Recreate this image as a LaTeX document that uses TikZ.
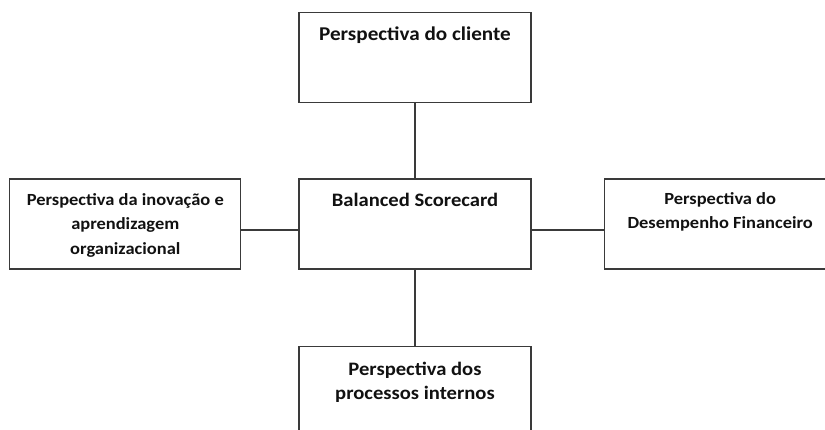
\documentclass[tikz,border=0pt]{standalone}
\usepackage{fontspec}
\setmainfont{Carlito}[FakeStretch=1.085]
\usetikzlibrary{positioning,calc}
\definecolor{bsInk}{HTML}{111111}
\definecolor{bsLine}{HTML}{3A3A3A}
\tikzset{
  bsbox/.style={draw=bsLine, line width=1.2pt, fill=white, minimum width=232pt, minimum height=90pt, inner sep=0pt},
  bstxt/.style={anchor=north, inner sep=0pt, yshift=-14.5pt, font=\fontsize{#1}{24.5}\selectfont\bfseries, text=bsInk, align=center},
  bstxt/.default=19,
  lnk/.style={draw=bsLine, line width=1.2pt},
}

\begin{document}
\begin{tikzpicture}[x=1pt, y=-1pt]
  \useasboundingbox (0,0) rectangle (825,429);
  \clip (0,0) rectangle (825,429);
  % ---------- centre ----------
  \node[bsbox, label={[bstxt=19]north:Balanced Scorecard}] (bsc) at (415,224) {};
  % ---------- perspectivas ----------
  \node[bsbox, above=75pt of bsc, label={[bstxt=19.5]north:Perspectiva do cliente}] (cli) {};
  \node[bsbox, below=76pt of bsc, label={[bstxt=19, yshift=-1.5pt]north:{Perspectiva dos\\processos internos}}] (pro) {};
  \node[bsbox, left=57pt of bsc, minimum width=231pt, label={[bstxt=17]north:{Perspectiva da inovação e\\aprendizagem\\organizacional}}] (ino) {};
  \node[bsbox, right=72pt of bsc, label={[bstxt=17, yshift=1pt]north:{Perspectiva do\\Desempenho Financeiro}}] (fin) {};
  % ---------- ligações ----------
  \draw[lnk] (cli) -- (bsc);
  \draw[lnk] (bsc) -- (pro);
  \draw[lnk] ([yshift=-6pt]ino.east) -- ([yshift=-6pt]bsc.west);
  \draw[lnk] ([yshift=-6pt]bsc.east) -- ([yshift=-6pt]fin.west);
\end{tikzpicture}
\end{document}
